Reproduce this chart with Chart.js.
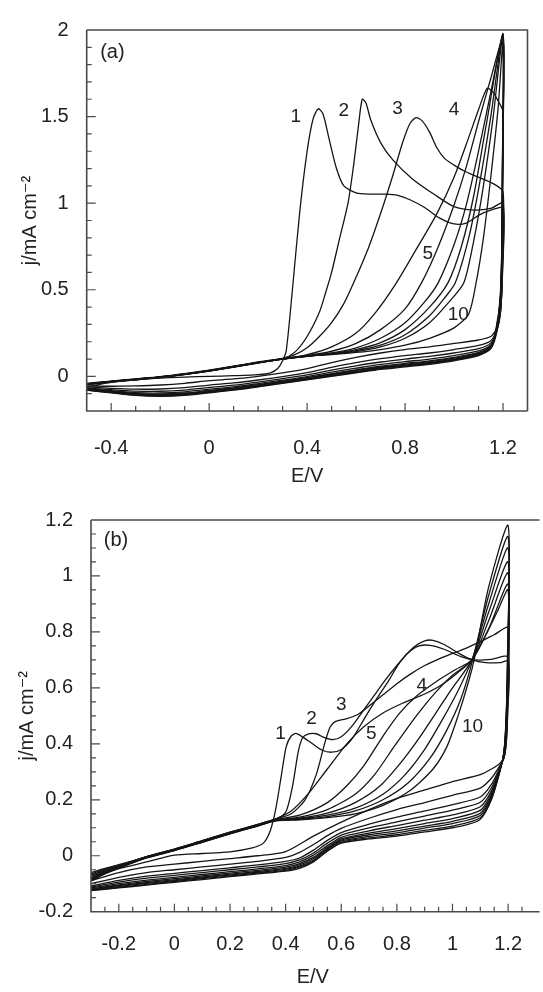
<!DOCTYPE html>
<html>
<head>
<meta charset="utf-8">
<script src="https://cdn.jsdelivr.net/npm/chart.js@4.4.1/dist/chart.umd.min.js"></script>
<style>
  body { margin: 0; background: #fff; overflow: hidden; }
  canvas { position: absolute; left: 0; }
</style>
</head>
<body>
<canvas id="chartA" width="543" height="490" style="top:0"></canvas>
<canvas id="chartB" width="543" height="502" style="top:490px"></canvas>
<script>
// panel (a): successive cycles, [E/V, j/mA cm-2], anodic sweep then cathodic return
let a1 = [[-0.5,-0.06],[-0.4,-0.035],[-0.3,-0.02],[-0.2,-0.01],[-0.1,-0.004],[0,0],[0.1,0.004],[0.2,0.01],[0.25,0.02],[0.28,0.045],[0.3,0.09],[0.315,0.15],[0.34,0.5],[0.37,0.95],[0.4,1.3],[0.425,1.49],[0.446,1.545],[0.465,1.515],[0.49,1.37],[0.52,1.2],[0.55,1.1],[0.6,1.06],[0.66,1.052],[0.72,1.052],[0.77,1.045],[0.82,1.02],[0.88,0.975],[0.94,0.915],[1.0,0.88],[1.05,0.885],[1.1,0.93],[1.15,0.96],[1.2,0.97],
  [1.198,0.6],[1.19,0.38],[1.175,0.28],[1.15,0.23],[1.1,0.21],[1.0,0.19],[0.9,0.17],[0.8,0.155],[0.7,0.135],[0.6,0.11],[0.5,0.08],[0.4,0.045],[0.3,0.02],[0.2,0],[0.1,-0.015],[0,-0.025],[-0.1,-0.04],[-0.2,-0.05],[-0.3,-0.055],[-0.4,-0.057],[-0.5,-0.055]];
let a2 = [[-0.5,-0.045],[-0.4,-0.03],[-0.3,-0.017],[-0.2,-0.004],[-0.1,0.013],[0,0.033],[0.1,0.057],[0.2,0.08],[0.3,0.102],[0.35,0.14],[0.4,0.23],[0.45,0.37],[0.475,0.48],[0.5,0.6],[0.53,0.78],[0.567,1.0],[0.59,1.22],[0.61,1.45],[0.625,1.6],[0.64,1.58],[0.66,1.48],[0.7,1.35],[0.75,1.25],[0.83,1.14],[0.92,1.05],[1.0,0.98],[1.08,0.96],[1.15,0.97],[1.2,1.0],
  [1.198,0.62],[1.19,0.38],[1.175,0.27],[1.15,0.206],[1.1,0.179],[1.0,0.155],[0.9,0.135],[0.8,0.12],[0.7,0.102],[0.6,0.079],[0.5,0.052],[0.4,0.022],[0.3,-0.001],[0.2,-0.021],[0.1,-0.038],[0,-0.05],[-0.1,-0.065],[-0.2,-0.073],[-0.3,-0.074],[-0.4,-0.069],[-0.5,-0.061]];
let a3 = [[-0.5,-0.04],[-0.4,-0.027],[-0.3,-0.014],[-0.2,-0.001],[-0.1,0.016],[0,0.036],[0.1,0.059],[0.2,0.083],[0.3,0.104],[0.35,0.125],[0.4,0.165],[0.45,0.23],[0.5,0.31],[0.55,0.42],[0.59,0.54],[0.65,0.74],[0.7,0.94],[0.75,1.16],[0.79,1.35],[0.82,1.46],[0.845,1.494],[0.87,1.475],[0.9,1.41],[0.93,1.32],[0.96,1.26],[1.0,1.22],[1.05,1.18],[1.1,1.15],[1.16,1.113],[1.2,1.065],
  [1.198,0.64],[1.19,0.37],[1.175,0.26],[1.15,0.192],[1.1,0.16],[1.0,0.135],[0.9,0.115],[0.8,0.1],[0.7,0.083],[0.6,0.061],[0.5,0.036],[0.4,0.009],[0.3,-0.013],[0.2,-0.033],[0.1,-0.051],[0,-0.064],[-0.1,-0.079],[-0.2,-0.086],[-0.3,-0.085],[-0.4,-0.077],[-0.5,-0.067]];
let a4 = [[-0.5,-0.046],[-0.4,-0.031],[-0.3,-0.019],[-0.2,-0.006],[-0.1,0.011],[0,0.031],[0.1,0.054],[0.2,0.078],[0.3,0.1],[0.4,0.125],[0.5,0.17],[0.6,0.25],[0.68,0.37],[0.76,0.53],[0.84,0.72],[0.93,0.94],[1.0,1.15],[1.06,1.38],[1.1,1.54],[1.135,1.663],[1.16,1.64],[1.18,1.59],[1.2,1.53],
  [1.198,1.0],[1.194,0.6],[1.186,0.38],[1.17,0.25],[1.15,0.181],[1.1,0.147],[1.0,0.12],[0.9,0.1],[0.8,0.085],[0.7,0.069],[0.6,0.047],[0.5,0.024],[0.4,-0.001],[0.3,-0.022],[0.2,-0.042],[0.1,-0.061],[0,-0.074],[-0.1,-0.089],[-0.2,-0.096],[-0.3,-0.094],[-0.4,-0.083],[-0.5,-0.071]];
let a5 = [[-0.5,-0.043],[-0.4,-0.029],[-0.3,-0.016],[-0.2,-0.003],[-0.1,0.014],[0,0.034],[0.1,0.057],[0.2,0.081],[0.3,0.103],[0.4,0.12],[0.5,0.145],[0.6,0.19],[0.7,0.27],[0.8,0.39],[0.867,0.54],[0.93,0.73],[1.0,0.99],[1.05,1.21],[1.1,1.47],[1.15,1.72],[1.2,1.95],
  [1.198,1.3],[1.195,0.75],[1.188,0.45],[1.172,0.28],[1.15,0.174],[1.1,0.138],[1.0,0.11],[0.9,0.09],[0.8,0.075],[0.7,0.059],[0.6,0.038],[0.5,0.016],[0.4,-0.007],[0.3,-0.028],[0.2,-0.048],[0.1,-0.067],[0,-0.081],[-0.1,-0.096],[-0.2,-0.102],[-0.3,-0.099],[-0.4,-0.087],[-0.5,-0.074]];
let a6 = [[-0.5,-0.047],[-0.4,-0.032],[-0.3,-0.02],[-0.2,-0.007],[-0.1,0.01],[0,0.03],[0.1,0.053],[0.2,0.077],[0.3,0.099],[0.4,0.116],[0.5,0.135],[0.6,0.165],[0.7,0.22],[0.8,0.31],[0.88,0.43],[0.935,0.54],[1.0,0.76],[1.05,0.99],[1.1,1.3],[1.15,1.64],[1.2,1.96],
  [1.198,1.25],[1.195,0.72],[1.188,0.43],[1.172,0.27],[1.15,0.171],[1.1,0.134],[1.0,0.105],[0.9,0.085],[0.8,0.07],[0.7,0.054],[0.6,0.034],[0.5,0.012],[0.4,-0.01],[0.3,-0.031],[0.2,-0.051],[0.1,-0.07],[0,-0.085],[-0.1,-0.1],[-0.2,-0.105],[-0.3,-0.102],[-0.4,-0.089],[-0.5,-0.076]];
let a7 = [[-0.5,-0.044],[-0.4,-0.029],[-0.3,-0.017],[-0.2,-0.004],[-0.1,0.013],[0,0.033],[0.1,0.056],[0.2,0.08],[0.3,0.101],[0.4,0.117],[0.5,0.132],[0.6,0.155],[0.7,0.195],[0.8,0.27],[0.9,0.4],[0.975,0.54],[1.03,0.75],[1.08,1.04],[1.13,1.44],[1.2,1.97],
  [1.198,1.2],[1.195,0.7],[1.188,0.42],[1.172,0.265],[1.15,0.167],[1.1,0.129],[1.0,0.1],[0.9,0.08],[0.8,0.065],[0.7,0.05],[0.6,0.029],[0.5,0.008],[0.4,-0.014],[0.3,-0.034],[0.2,-0.054],[0.1,-0.074],[0,-0.088],[-0.1,-0.103],[-0.2,-0.109],[-0.3,-0.105],[-0.4,-0.091],[-0.5,-0.077]];
let a8 = [[-0.5,-0.046],[-0.4,-0.031],[-0.3,-0.018],[-0.2,-0.005],[-0.1,0.012],[0,0.032],[0.1,0.055],[0.2,0.079],[0.3,0.101],[0.4,0.118],[0.5,0.13],[0.6,0.148],[0.7,0.18],[0.8,0.24],[0.9,0.35],[0.96,0.45],[1.005,0.54],[1.06,0.8],[1.1,1.08],[1.15,1.5],[1.2,1.98],
  [1.198,1.2],[1.195,0.68],[1.188,0.41],[1.172,0.26],[1.15,0.165],[1.1,0.126],[1.0,0.097],[0.9,0.077],[0.8,0.062],[0.7,0.047],[0.6,0.026],[0.5,0.006],[0.4,-0.015],[0.3,-0.036],[0.2,-0.056],[0.1,-0.075],[0,-0.09],[-0.1,-0.105],[-0.2,-0.11],[-0.3,-0.106],[-0.4,-0.092],[-0.5,-0.078]];
let a9 = [[-0.5,-0.045],[-0.4,-0.03],[-0.3,-0.018],[-0.2,-0.005],[-0.1,0.012],[0,0.032],[0.1,0.055],[0.2,0.079],[0.3,0.1],[0.4,0.117],[0.5,0.128],[0.6,0.143],[0.7,0.17],[0.8,0.22],[0.9,0.31],[0.98,0.43],[1.04,0.54],[1.08,0.78],[1.12,1.1],[1.16,1.5],[1.2,1.97],
  [1.198,1.15],[1.195,0.66],[1.188,0.4],[1.172,0.255],[1.15,0.163],[1.1,0.124],[1.0,0.094],[0.9,0.074],[0.8,0.059],[0.7,0.044],[0.6,0.024],[0.5,0.003],[0.4,-0.017],[0.3,-0.038],[0.2,-0.058],[0.1,-0.077],[0,-0.092],[-0.1,-0.107],[-0.2,-0.112],[-0.3,-0.108],[-0.4,-0.093],[-0.5,-0.079]];
let a10 = [[-0.5,-0.044],[-0.4,-0.029],[-0.3,-0.017],[-0.2,-0.004],[-0.1,0.013],[0,0.033],[0.1,0.056],[0.2,0.08],[0.3,0.1],[0.4,0.116],[0.5,0.126],[0.6,0.138],[0.7,0.155],[0.8,0.18],[0.9,0.22],[1.0,0.28],[1.06,0.36],[1.09,0.54],[1.12,0.8],[1.15,1.15],[1.18,1.55],[1.2,1.93],
  [1.198,1.1],[1.195,0.62],[1.188,0.38],[1.172,0.24],[1.15,0.16],[1.1,0.12],[1.0,0.09],[0.9,0.07],[0.8,0.055],[0.7,0.04],[0.6,0.02],[0.5,0],[0.4,-0.02],[0.3,-0.04],[0.2,-0.06],[0.1,-0.08],[0,-0.095],[-0.1,-0.11],[-0.2,-0.115],[-0.3,-0.11],[-0.4,-0.095],[-0.5,-0.08]];

// panel (b)
let b1 = [[-0.3,-0.09],[-0.25,-0.062],[-0.2,-0.046],[-0.1,-0.022],[0,0.002],[0.1,0.008],[0.2,0.014],[0.28,0.028],[0.32,0.045],[0.345,0.09],[0.365,0.17],[0.385,0.29],[0.402,0.39],[0.42,0.428],[0.437,0.437],[0.46,0.425],[0.49,0.405],[0.53,0.378],[0.565,0.37],[0.6,0.38],[0.64,0.42],[0.68,0.485],[0.72,0.55],[0.77,0.625],[0.81,0.69],[0.86,0.745],[0.9,0.768],[0.93,0.77],[0.97,0.755],[1.02,0.725],[1.07,0.7],[1.12,0.69],[1.17,0.69],[1.2,0.695],
  [1.198,0.5],[1.193,0.4],[1.185,0.35],[1.17,0.33],[1.14,0.31],[1.1,0.29],[1.0,0.265],[0.9,0.235],[0.8,0.205],[0.7,0.165],[0.6,0.12],[0.5,0.07],[0.4,0.015],[0.3,0],[0.2,-0.01],[0.1,-0.02],[0,-0.03],[-0.1,-0.04],[-0.2,-0.06],[-0.3,-0.09]];
let b2 = [[-0.3,-0.06],[-0.25,-0.045],[-0.2,-0.032],[-0.1,-0.004],[0,0.022],[0.1,0.052],[0.2,0.082],[0.3,0.11],[0.36,0.128],[0.4,0.155],[0.425,0.25],[0.445,0.37],[0.46,0.42],[0.48,0.435],[0.51,0.436],[0.54,0.422],[0.57,0.415],[0.6,0.425],[0.64,0.465],[0.68,0.52],[0.72,0.575],[0.76,0.63],[0.8,0.68],[0.84,0.725],[0.88,0.75],[0.92,0.752],[0.97,0.738],[1.03,0.712],[1.08,0.7],[1.14,0.702],[1.2,0.71],
  [1.198,0.5],[1.193,0.4],[1.185,0.35],[1.17,0.321],[1.14,0.277],[1.1,0.242],[1.0,0.216],[0.9,0.19],[0.8,0.165],[0.7,0.134],[0.6,0.098],[0.55,0.072],[0.5,0.04],[0.45,0.012],[0.4,-0.006],[0.3,-0.02],[0.2,-0.03],[0.1,-0.04],[0,-0.05],[-0.1,-0.06],[-0.2,-0.077],[-0.3,-0.1]];
let b3 = [[-0.3,-0.065],[-0.25,-0.048],[-0.2,-0.034],[-0.1,-0.003],[0,0.024],[0.1,0.054],[0.2,0.084],[0.3,0.112],[0.36,0.13],[0.42,0.15],[0.47,0.2],[0.51,0.29],[0.54,0.4],[0.56,0.46],[0.58,0.48],[0.62,0.49],[0.66,0.505],[0.7,0.535],[0.75,0.575],[0.8,0.615],[0.85,0.65],[0.9,0.68],[0.95,0.703],[1.0,0.723],[1.05,0.742],[1.1,0.765],[1.15,0.79],[1.2,0.815],
  [1.198,0.55],[1.193,0.42],[1.185,0.35],[1.17,0.315],[1.14,0.255],[1.1,0.21],[1.0,0.183],[0.9,0.16],[0.8,0.138],[0.7,0.113],[0.6,0.083],[0.55,0.055],[0.5,0.02],[0.45,-0.008],[0.4,-0.02],[0.3,-0.033],[0.2,-0.043],[0.1,-0.053],[0,-0.063],[-0.1,-0.073],[-0.2,-0.088],[-0.3,-0.108]];
let b4 = [[-0.3,-0.07],[-0.25,-0.051],[-0.2,-0.036],[-0.1,-0.004],[0,0.022],[0.1,0.052],[0.2,0.082],[0.3,0.11],[0.36,0.13],[0.42,0.16],[0.48,0.22],[0.55,0.31],[0.62,0.4],[0.68,0.46],[0.75,0.51],[0.82,0.545],[0.9,0.578],[0.96,0.61],[1.02,0.655],[1.07,0.7],[1.12,0.79],[1.16,0.87],[1.2,0.95],
  [1.198,0.6],[1.193,0.44],[1.185,0.36],[1.17,0.311],[1.14,0.242],[1.1,0.191],[1.0,0.163],[0.9,0.142],[0.8,0.121],[0.7,0.1],[0.6,0.074],[0.55,0.045],[0.5,0.01],[0.45,-0.015],[0.4,-0.028],[0.3,-0.04],[0.2,-0.05],[0.1,-0.06],[0,-0.07],[-0.1,-0.08],[-0.2,-0.094],[-0.3,-0.112]];
let b5 = [[-0.3,-0.075],[-0.25,-0.054],[-0.2,-0.037],[-0.1,-0.003],[0,0.024],[0.1,0.054],[0.2,0.084],[0.3,0.112],[0.36,0.129],[0.45,0.145],[0.55,0.19],[0.62,0.25],[0.68,0.32],[0.755,0.435],[0.81,0.51],[0.87,0.57],[0.95,0.628],[1.01,0.665],[1.07,0.7],[1.13,0.81],[1.2,0.97],
  [1.198,0.6],[1.193,0.45],[1.185,0.36],[1.17,0.308],[1.14,0.231],[1.1,0.175],[1.0,0.146],[0.9,0.127],[0.8,0.108],[0.7,0.089],[0.6,0.066],[0.55,0.036],[0.5,0.002],[0.45,-0.022],[0.4,-0.035],[0.3,-0.047],[0.2,-0.057],[0.1,-0.067],[0,-0.077],[-0.1,-0.087],[-0.2,-0.1],[-0.3,-0.115]];
let b6 = [[-0.3,-0.08],[-0.25,-0.057],[-0.2,-0.04],[-0.1,-0.005],[0,0.021],[0.1,0.051],[0.2,0.081],[0.3,0.109],[0.36,0.127],[0.45,0.138],[0.55,0.165],[0.65,0.22],[0.72,0.29],[0.79,0.39],[0.87,0.5],[0.94,0.585],[1.0,0.645],[1.07,0.7],[1.13,0.84],[1.2,1.01],
  [1.198,0.62],[1.193,0.46],[1.185,0.36],[1.17,0.306],[1.14,0.222],[1.1,0.162],[1.0,0.133],[0.9,0.115],[0.8,0.097],[0.7,0.081],[0.6,0.06],[0.55,0.03],[0.5,-0.005],[0.45,-0.028],[0.4,-0.041],[0.3,-0.052],[0.2,-0.062],[0.1,-0.072],[0,-0.082],[-0.1,-0.092],[-0.2,-0.104],[-0.3,-0.118]];
let b7 = [[-0.3,-0.082],[-0.25,-0.06],[-0.2,-0.042],[-0.1,-0.006],[0,0.02],[0.1,0.05],[0.2,0.08],[0.3,0.108],[0.36,0.126],[0.45,0.134],[0.55,0.152],[0.65,0.19],[0.74,0.25],[0.82,0.34],[0.88,0.42],[0.94,0.51],[1.0,0.6],[1.07,0.7],[1.13,0.87],[1.2,1.05],
  [1.198,0.65],[1.193,0.47],[1.185,0.37],[1.17,0.304],[1.14,0.215],[1.1,0.152],[1.0,0.123],[0.9,0.106],[0.8,0.089],[0.7,0.075],[0.6,0.056],[0.55,0.026],[0.5,-0.01],[0.45,-0.033],[0.4,-0.045],[0.3,-0.056],[0.2,-0.066],[0.1,-0.076],[0,-0.086],[-0.1,-0.096],[-0.2,-0.107],[-0.3,-0.12]];
let b8 = [[-0.3,-0.085],[-0.25,-0.062],[-0.2,-0.043],[-0.1,-0.007],[0,0.019],[0.1,0.049],[0.2,0.079],[0.3,0.107],[0.36,0.125],[0.45,0.132],[0.55,0.145],[0.65,0.17],[0.75,0.22],[0.83,0.29],[0.9,0.38],[0.96,0.48],[1.02,0.59],[1.07,0.7],[1.13,0.9],[1.2,1.1],
  [1.198,0.68],[1.193,0.48],[1.185,0.37],[1.17,0.303],[1.14,0.21],[1.1,0.144],[1.0,0.115],[0.9,0.099],[0.8,0.082],[0.7,0.069],[0.6,0.052],[0.55,0.022],[0.5,-0.015],[0.45,-0.037],[0.4,-0.049],[0.3,-0.059],[0.2,-0.069],[0.1,-0.079],[0,-0.089],[-0.1,-0.099],[-0.2,-0.11],[-0.3,-0.122]];
let b9 = [[-0.3,-0.088],[-0.25,-0.063],[-0.2,-0.043],[-0.1,-0.006],[0,0.02],[0.1,0.05],[0.2,0.08],[0.3,0.108],[0.36,0.126],[0.45,0.13],[0.55,0.14],[0.65,0.16],[0.75,0.2],[0.84,0.26],[0.92,0.35],[0.98,0.45],[1.03,0.56],[1.07,0.69],[1.13,0.93],[1.2,1.14],
  [1.198,0.7],[1.193,0.49],[1.185,0.37],[1.17,0.301],[1.14,0.204],[1.1,0.136],[1.0,0.106],[0.9,0.091],[0.8,0.075],[0.7,0.064],[0.6,0.048],[0.55,0.018],[0.5,-0.019],[0.45,-0.041],[0.4,-0.052],[0.3,-0.062],[0.2,-0.072],[0.1,-0.082],[0,-0.092],[-0.1,-0.102],[-0.2,-0.113],[-0.3,-0.124]];
let b10 = [[-0.3,-0.09],[-0.25,-0.065],[-0.2,-0.045],[-0.1,-0.008],[0,0.018],[0.1,0.048],[0.2,0.078],[0.3,0.106],[0.36,0.124],[0.45,0.128],[0.55,0.136],[0.65,0.15],[0.75,0.18],[0.85,0.235],[0.93,0.31],[0.98,0.39],[1.02,0.5],[1.06,0.63],[1.08,0.71],[1.13,0.96],[1.2,1.18],
  [1.198,0.72],[1.193,0.5],[1.185,0.37],[1.17,0.3],[1.14,0.2],[1.1,0.13],[1.05,0.11],[1.0,0.1],[0.9,0.085],[0.8,0.07],[0.7,0.06],[0.6,0.045],[0.55,0.016],[0.5,-0.022],[0.45,-0.045],[0.4,-0.055],[0.3,-0.065],[0.2,-0.075],[0.1,-0.085],[0,-0.095],[-0.1,-0.105],[-0.2,-0.115],[-0.3,-0.125]];

let xTicksA = [-0.4, 0, 0.4, 0.8, 1.2];
let yTicksA = [0, 0.5, 1, 1.5, 2];
let xTicksB = [-0.2, 0, 0.2, 0.4, 0.6, 0.8, 1, 1.2];
let yTicksB = [-0.2, 0, 0.2, 0.4, 0.6, 0.8, 1, 1.2];

let tagsA = [['(a)', -0.395, 1.873], ['1', 0.354, 1.50], ['2', 0.55, 1.534], ['3', 0.769, 1.545], ['4', 1.0, 1.54], ['5', 0.893, 0.71], ['10', 1.017, 0.355]];
let tagsB = [['(b)', -0.21, 1.128], ['1', 0.382, 0.437], ['2', 0.493, 0.488], ['3', 0.6, 0.541], ['4', 0.89, 0.606], ['5', 0.708, 0.435], ['10', 1.072, 0.462]];

let ink = '#151515';
let axisColor = '#4a4a4a';
let fontFamily = '"Liberation Sans", Arial, "DejaVu Sans", sans-serif';

// box + inward ticks, drawn on top of the plot
let frame = {
	id: 'frame',
	afterDraw(chart, args, o) {
		let {ctx, chartArea: a, scales: {x, y}} = chart;
		ctx.save();
		ctx.strokeStyle = axisColor;
		ctx.lineWidth = 1.6;
		ctx.beginPath();
		ctx.moveTo(a.left, a.top);
		ctx.lineTo(a.left, a.bottom);
		ctx.lineTo(a.right + (o.boxRight ? 0 : 5), a.bottom);
		ctx.moveTo(a.left, a.top);
		ctx.lineTo(a.right + (o.boxRight ? 0 : 5), a.top);
		if (o.boxRight) {
			ctx.lineTo(a.right, a.bottom);
		}
		ctx.stroke();

		ctx.lineWidth = 1.2;
		ctx.beginPath();
		for (let i = 0; ; i++) {
			let v = o.x[0] + i * o.x[2];
			if (v > o.x[1] + 1e-9) break;
			let px = x.getPixelForValue(v);
			let major = Math.abs(v / o.x[3] - Math.round(v / o.x[3])) < 1e-6;
			ctx.moveTo(px, a.bottom);
			ctx.lineTo(px, a.bottom - (major ? 8 : 5));
		}
		for (let i = 0; ; i++) {
			let v = o.y[0] + i * o.y[2];
			if (v > o.y[1] + 1e-9) break;
			let py = y.getPixelForValue(v);
			let major = Math.abs(v / o.y[3] - Math.round(v / o.y[3])) < 1e-6;
			ctx.moveTo(a.left, py);
			ctx.lineTo(a.left + (major ? 9 : 5), py);
		}
		ctx.stroke();
		ctx.restore();
	}
};

// cycle numbers and panel letter
let tags = {
	id: 'tags',
	afterDraw(chart, args, o) {
		let {ctx, scales: {x, y}} = chart;
		ctx.save();
		ctx.fillStyle = '#222';
		ctx.textAlign = 'center';
		ctx.textBaseline = 'middle';
		o.items.forEach(([text, ex, jy]) => {
			ctx.font = (text.startsWith('(') ? '20px ' : '19px ') + fontFamily;
			ctx.fillText(text, x.getPixelForValue(ex), y.getPixelForValue(jy));
		});
		ctx.restore();
	}
};

function toDatasets(cycles) {
	return cycles.map((c, i) => ({
		label: 'cycle ' + (i + 1),
		data: c.map(([e, j]) => ({x: e, y: j})),
		showLine: true,
		borderColor: ink,
		borderWidth: 1.3,
		pointRadius: 0,
		tension: 0.25,
		fill: false
	}));
}

function build(id, cycles, s) {
	let tickFont = {family: fontFamily, size: 20};
	return new Chart(document.getElementById(id), {
		type: 'scatter',
		data: {datasets: toDatasets(cycles)},
		options: {
			responsive: false,
			animation: false,
			layout: {padding: s.padding},
			plugins: {
				legend: {display: false},
				tooltip: {enabled: false},
				frame: s.frame,
				tags: {items: s.tags}
			},
			scales: {
				x: {
					type: 'linear',
					min: s.xMin,
					max: s.xMax,
					afterBuildTicks: (sc) => { sc.ticks = s.xTicks.map(v => ({value: v})); },
					afterFit: (sc) => { sc.height = s.xHeight; },
					grid: {display: false, drawTicks: false},
					border: {display: false},
					ticks: {color: '#222', font: tickFont, padding: s.xTickPad, maxRotation: 0, autoSkip: false, callback: v => String(v)},
					title: {display: true, text: 'E/V', color: '#222', font: tickFont, padding: {top: 0, bottom: s.xTitlePad}}
				},
				y: {
					type: 'linear',
					min: s.yMin,
					max: s.yMax,
					afterBuildTicks: (sc) => { sc.ticks = s.yTicks.map(v => ({value: v})); },
					afterFit: (sc) => { sc.width = s.yWidth; },
					grid: {display: false, drawTicks: false},
					border: {display: false},
					ticks: {color: '#222', font: tickFont, padding: 18, autoSkip: false, callback: v => String(v)},
					title: {display: true, text: 'j/mA cm\u207B\u00B2', color: '#222', font: tickFont, padding: {top: s.yTitlePad, bottom: 0}}
				}
			}
		},
		plugins: [frame, tags]
	});
}

build('chartA', [a1, a2, a3, a4, a5, a6, a7, a8, a9, a10], {
	xMin: -0.5, xMax: 1.3, yMin: -0.2, yMax: 2,
	xTicks: xTicksA, yTicks: yTicksA,
	padding: {left: 0, right: 15.5, top: 21, bottom: 0},
	yWidth: 86.7, xHeight: 79, xTickPad: 25, xTitlePad: 2, yTitlePad: 18,
	frame: {boxRight: true, x: [-0.4, 1.2, 0.1, 0.4], y: [-0.1, 1.9, 0.1, 0.5]},
	tags: tagsA
});

build('chartB', [b1, b2, b3, b4, b5, b6, b7, b8, b9, b10], {
	xMin: -0.3, xMax: 1.295, yMin: -0.2, yMax: 1.2,
	xTicks: xTicksB, yTicks: yTicksB,
	padding: {left: 0, right: 0, top: 24, bottom: 0},
	yWidth: 91, xHeight: 80.3, xTickPad: 21, xTitlePad: 3, yTitlePad: 15,
	frame: {boxRight: false, x: [-0.25, 1.25, 0.05, 0.2], y: [-0.15, 1.15, 0.05, 0.2]},
	tags: tagsB
});
</script>
</body>
</html>
